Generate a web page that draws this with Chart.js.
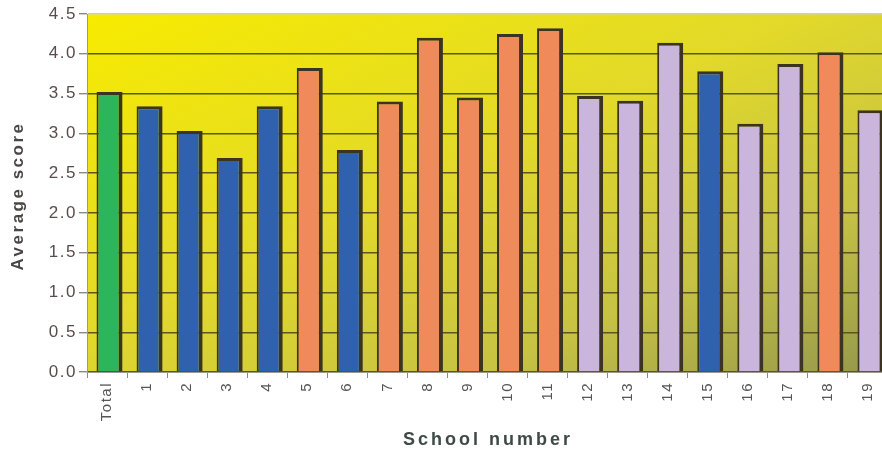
<!DOCTYPE html>
<html>
<head>
<meta charset="utf-8">
<script src="https://cdn.jsdelivr.net/npm/chart.js@4/dist/chart.umd.min.js"></script>
<style>
  html, body { margin: 0; padding: 0; background: #ffffff; overflow: hidden; }
  #wrap { position: relative; width: 882px; height: 457px; overflow: hidden; }
  #chart { position: absolute; left: 0; top: 0; }
</style>
</head>
<body>
<div id="wrap"><canvas id="chart" width="892" height="457"></canvas></div>
<script>
// Average score per school, with the overall total first
const categories = ['Total', '1', '2', '3', '4', '5', '6', '7', '8', '9', '10',
                    '11', '12', '13', '14', '15', '16', '17', '18', '19'];
const averageScores = [3.52, 3.34, 3.03, 2.69, 3.34, 3.82, 2.79, 3.40, 4.20, 3.45, 4.25,
                       4.32, 3.47, 3.41, 4.14, 3.78, 3.12, 3.87, 4.02, 3.29];
// School grouping used to colour each bar
const schoolGroups = ['total', 'A', 'A', 'A', 'A', 'B', 'A', 'B', 'B', 'B', 'B',
                      'B', 'C', 'C', 'C', 'A', 'C', 'C', 'B', 'C'];
const yTicks = [0, 0.5, 1, 1.5, 2, 2.5, 3, 3.5, 4, 4.5];

const groupColours = { total: '#2cb55a', A: '#2f61ae', B: '#f08a5a', C: '#cab5dc' };
const FONT = '"Liberation Sans", Arial, sans-serif';

// Yellow-to-olive plot background, bar depth offset, and the two axis titles
const decorations = {
  id: 'decorations',
  beforeDraw(chart) {
    const { ctx, chartArea: a } = chart;
    const w = a.right - a.left, h = a.bottom - a.top;
    const k = (2 * w * h) / (h * h + w * w);
    const g = ctx.createLinearGradient(a.left, a.top, a.left + h * k, a.top + w * k);
    g.addColorStop(0, '#f7eb00');
    g.addColorStop(0.45, '#e2d92a');
    g.addColorStop(0.75, '#c6c244');
    g.addColorStop(1, '#94974c');
    ctx.save();
    ctx.fillStyle = g;
    ctx.fillRect(a.left, a.top, w, h);
    ctx.restore();
    ctx.letterSpacing = '1.5px';
  },
  beforeDatasetsDraw(chart) {
    chart.ctx.save();
    chart.ctx.translate(2.5, 0);
  },
  afterDatasetsDraw(chart) {
    chart.ctx.restore();
  },
  afterDraw(chart) {
    const { ctx } = chart;
    ctx.save();
    ctx.textAlign = 'center';
    ctx.textBaseline = 'middle';
    ctx.font = 'bold 18px ' + FONT;
    ctx.letterSpacing = '3px';
    ctx.fillStyle = '#3f4a46';
    ctx.fillText('School number', 488, 440);
    ctx.font = 'bold 17px ' + FONT;
    ctx.letterSpacing = '2.5px';
    ctx.translate(18, 196);
    ctx.rotate(-Math.PI / 2);
    ctx.fillStyle = '#4a4646';
    ctx.fillText('Average score', 0, 0);
    ctx.restore();
  }
};

new Chart(document.getElementById('chart'), {
  type: 'bar',
  data: {
    labels: categories,
    datasets: [{
      data: averageScores,
      backgroundColor: schoolGroups.map(g => groupColours[g]),
      borderColor: '#3a3420',
      borderWidth: { left: 2, top: 3, right: 4, bottom: 0 },
      borderSkipped: false,
      barPercentage: 0.65,
      categoryPercentage: 1.0
    }]
  },
  options: {
    responsive: false,
    animation: false,
    devicePixelRatio: 1,
    layout: { padding: { top: 14, right: 4, bottom: 0, left: 0 } },
    plugins: { legend: { display: false }, tooltip: { enabled: false } },
    scales: {
      x: {
        offset: true,
        grid: { offset: true, drawOnChartArea: false, drawTicks: true, tickLength: 6, tickColor: '#8a8a80' },
        border: { display: true, color: '#9a9a90', width: 1 },
        ticks: {
          minRotation: 90, maxRotation: 90, autoSkip: false, padding: 4,
          color: '#555555', font: { family: FONT, size: 15 }
        },
        afterFit(scale) { scale.height = 85; }
      },
      y: {
        min: 0, max: 4.5,
        afterBuildTicks(scale) { scale.ticks = yTicks.map(v => ({ value: v })); },
        grid: {
          color: ctx => (ctx.tick && ctx.tick.value === 4.5) ? '#cfcfc0' : '#5a561e',
          lineWidth: 1.4,
          drawTicks: true, tickLength: 8, tickColor: '#8a8a80'
        },
        border: { display: true, color: '#9a9a90', width: 1 },
        ticks: {
          padding: 2, color: '#584c4c', font: { family: FONT, size: 17 },
          callback: v => Number(v).toFixed(1)
        },
        afterFit(scale) { scale.width = 87; }
      }
    }
  },
  plugins: [decorations]
});
</script>
</body>
</html>
